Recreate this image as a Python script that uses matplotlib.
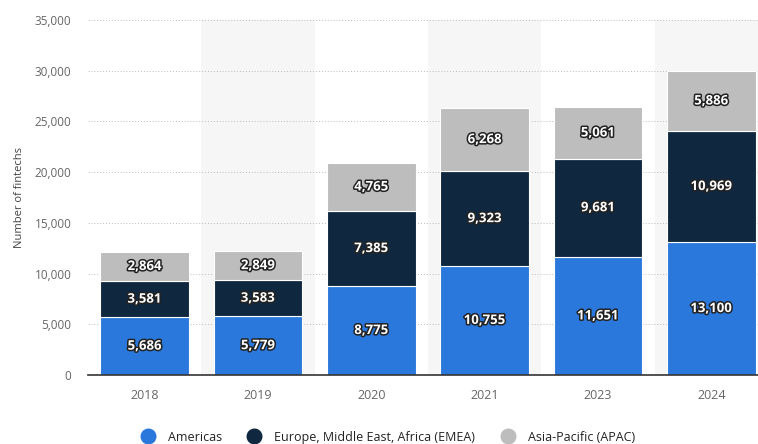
import matplotlib.pyplot as plt
import matplotlib.patheffects as pe
import numpy as np

years = ['2018', '2019', '2020', '2021', '2023', '2024']
americas = [5686, 5779, 8775, 10755, 11651, 13100]
emea = [3581, 3583, 7385, 9323, 9681, 10969]
apac = [2864, 2849, 4765, 6268, 5061, 5886]
series_names = ['Americas', 'Europe, Middle East, Africa (EMEA)', 'Asia-Pacific (APAC)']
colors = ['#2b78dc', '#0f2840', '#bdbdbd']

plt.rcParams['font.family'] = ['Open Sans', 'DejaVu Sans']

fig = plt.figure(figsize=(7.58, 4.44), dpi=100)
ax = fig.add_axes([88 / 758, 69 / 444, 680 / 758, 355 / 444])

x = np.arange(len(years))
# shaded background for every other column
for i in x:
    if i % 2 == 1:
        ax.axvspan(i - 0.5, i + 0.5, color='#f6f6f6', zorder=0, lw=0)

bottom = np.zeros(len(years))
for vals, name, c in zip([americas, emea, apac], series_names, colors):
    bars = ax.bar(x, vals, 0.78, bottom=bottom, color=c, label=name, zorder=3,
                  edgecolor='white', linewidth=0.8)
    for xi, v, b in zip(x, vals, bottom):
        t = ax.text(xi, b + v / 2, f'{v:,}', ha='center', va='center', color='white',
                    fontsize=9.5, fontweight='bold', zorder=4)
        t.set_path_effects([pe.withStroke(linewidth=2.2, foreground='#222222')])
    bottom += np.array(vals)

ax.set_xlim(-0.5, len(years) - 0.5)
ax.set_ylim(0, 35000)
ax.set_yticks(range(0, 35001, 5000))
ax.set_yticklabels([f'{v:,}' for v in range(0, 35001, 5000)])
ax.set_xticks(x)
ax.set_xticklabels(years)
ax.grid(axis='y', color='#bbbbbb', linestyle=(0, (1, 2)), linewidth=0.7, zorder=1)
ax.set_axisbelow(True)
for s in ['top', 'right', 'left']:
    ax.spines[s].set_visible(False)
ax.spines['bottom'].set_color('#333333')
ax.spines['bottom'].set_linewidth(1.2)
ax.spines['bottom'].set_zorder(5)
ax.tick_params(axis='both', length=0, colors='#666666', labelsize=8.5)
ax.tick_params(axis='x', pad=10, labelsize=9)
ax.tick_params(axis='y', pad=12)
ax.set_ylabel('Number of fintechs', fontsize=8, color='#444444', labelpad=7)

handles = [plt.Line2D([], [], marker='o', linestyle='', markersize=10.5, color=c) for c in colors]
fig.legend(handles, series_names, loc='lower center', bbox_to_anchor=(385 / 758, -0.025),
           ncol=3, frameon=False, fontsize=9, handletextpad=0.6, columnspacing=1.6,
           labelcolor='#222222')

fig.savefig('out.png', dpi=100)
